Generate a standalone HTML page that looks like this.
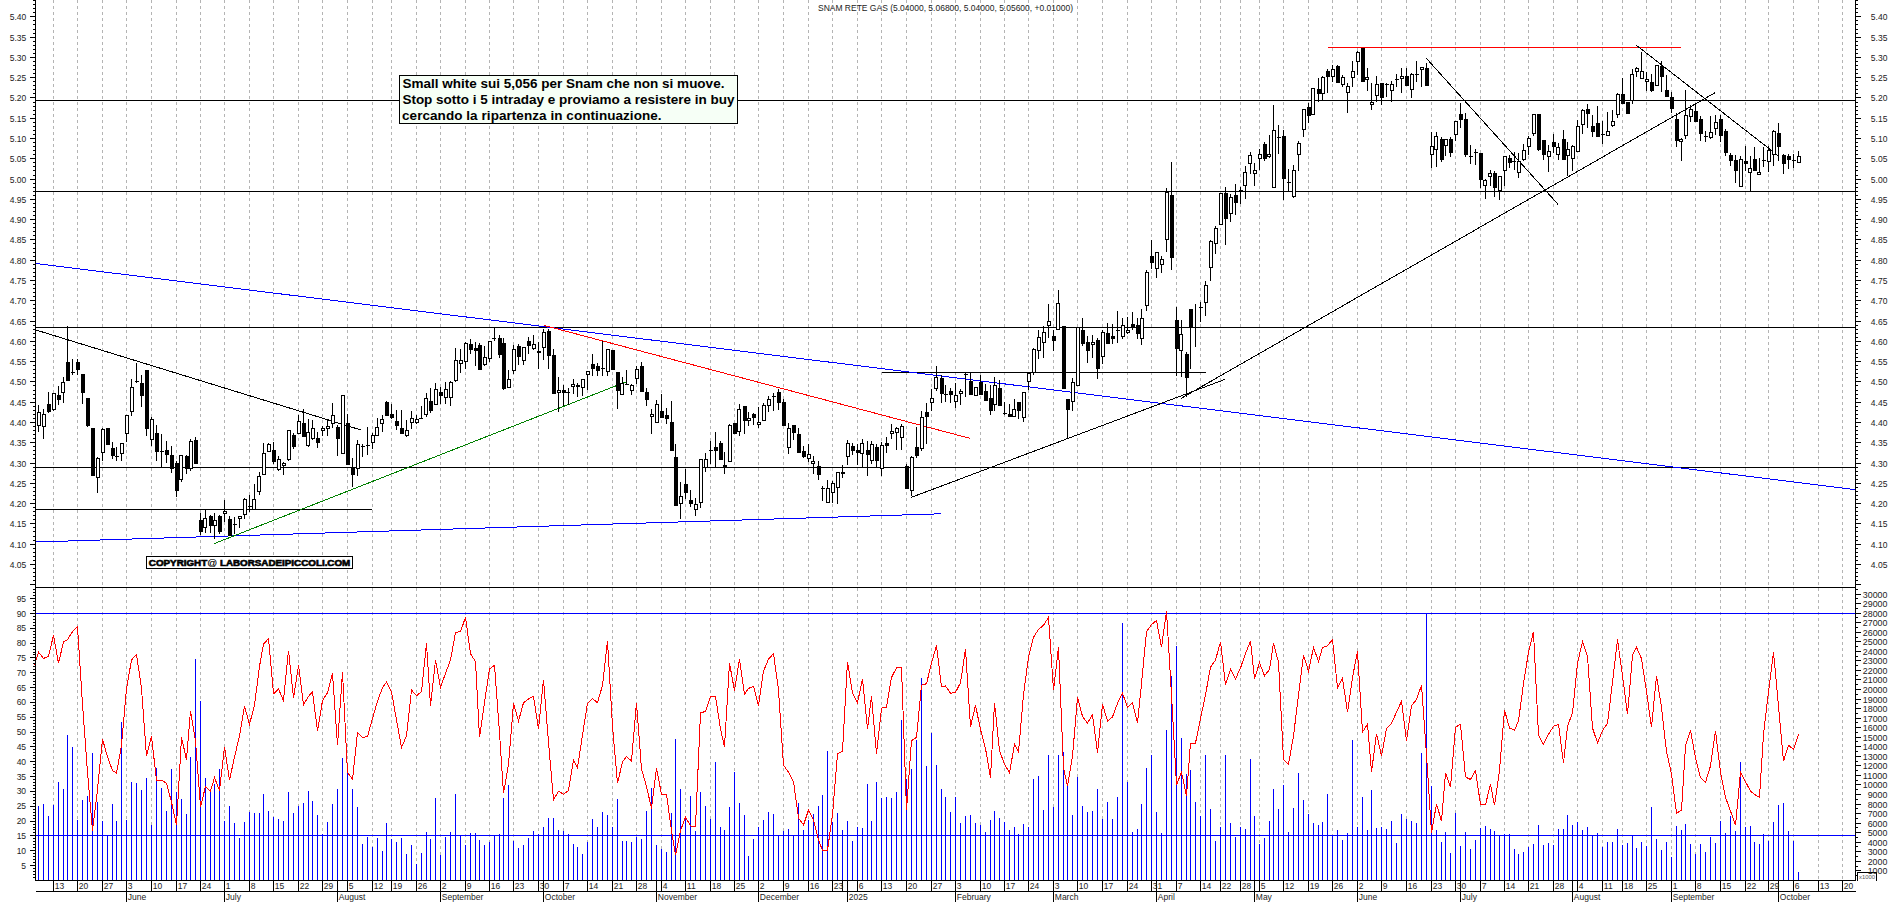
<!DOCTYPE html>
<html><head><meta charset="utf-8"><title>SNAM RETE GAS</title>
<style>html,body{margin:0;padding:0;background:#fff;}body{width:1890px;height:902px;overflow:hidden;font-family:"Liberation Sans",sans-serif;}svg{display:block}</style>
</head><body>
<svg width="1890" height="902" viewBox="0 0 1890 902" shape-rendering="crispEdges"><path d="M53.5 0V880.0M77.5 0V880.0M102.5 0V880.0M126.5 0V880.0M151.5 0V880.0M176.5 0V880.0M200.5 0V880.0M224.5 0V880.0M249.5 0V880.0M273.5 0V880.0M298.5 0V880.0M322.5 0V880.0M347.5 0V880.0M372.5 0V880.0M391.5 0V880.0M416.5 0V880.0M440.5 0V880.0M465.5 0V880.0M489.5 0V880.0M513.5 0V880.0M538.5 0V880.0M563.5 0V880.0M587.5 0V880.0M612.5 0V880.0M636.5 0V880.0M661.5 0V880.0M685.5 0V880.0M710.5 0V880.0M734.5 0V880.0M758.5 0V880.0M783.5 0V880.0M808.5 0V880.0M832.5 0V880.0M857.5 0V880.0M881.5 0V880.0M906.5 0V880.0M931.5 0V880.0M955.5 0V880.0M980.5 0V880.0M1004.5 0V880.0M1028.5 0V880.0M1053.5 0V880.0M1077.5 0V880.0M1102.5 0V880.0M1127.5 0V880.0M1151.5 0V880.0M1176.5 0V880.0M1200.5 0V880.0M1220.5 0V880.0M1240.5 0V880.0M1259.5 0V880.0M1283.5 0V880.0M1308.5 0V880.0M1332.5 0V880.0M1357.5 0V880.0M1381.5 0V880.0M1406.5 0V880.0M1431.5 0V880.0M1455.5 0V880.0M1480.5 0V880.0M1504.5 0V880.0M1528.5 0V880.0M1553.5 0V880.0M1577.5 0V880.0M1602.5 0V880.0M1622.5 0V880.0M1646.5 0V880.0M1671.5 0V880.0M1695.5 0V880.0M1720.5 0V880.0M1745.5 0V880.0M1768.5 0V880.0M1793.5 0V880.0M1818.5 0V880.0M1842.5 0V880.0" stroke="#b4b4b4" stroke-width="1" stroke-dasharray="3 3" fill="none"/>
<path d="M35.5 100.5H1855.5" stroke="#000" stroke-width="1" fill="none"/>
<path d="M35.5 191.5H1855.5" stroke="#000" stroke-width="1" fill="none"/>
<path d="M35.5 327.5H1855.5" stroke="#000" stroke-width="1" fill="none"/>
<path d="M35.5 467.5H1855.5" stroke="#000" stroke-width="1" fill="none"/>
<path d="M35.5 509.5H372" stroke="#000" stroke-width="1" fill="none"/>
<path d="M882 372.5H1206" stroke="#000" stroke-width="1" fill="none"/>
<path d="M1328 47.5H1681" stroke="#f00" stroke-width="1" fill="none"/>
<path d="M36 263.5L1855 489.6" stroke="#00f" stroke-width="1" fill="none"/>
<path d="M36 542L941 513.8" stroke="#00f" stroke-width="1" fill="none"/>
<path d="M214.2 543.6L625.4 382.1" stroke="#008000" stroke-width="1" fill="none"/>
<path d="M543.7 325.3L970.2 438.4" stroke="#f00" stroke-width="1" fill="none"/>
<path d="M36 330L361.6 430.2" stroke="#000" stroke-width="1" fill="none"/>
<path d="M911.2 497.4L1224.6 379.5" stroke="#000" stroke-width="1" fill="none"/>
<path d="M1181 398.4L1714.8 92.8" stroke="#000" stroke-width="1" fill="none"/>
<path d="M1426.3 58.3L1557.9 204.2" stroke="#000" stroke-width="1" fill="none"/>
<path d="M1636.3 45.2L1778.3 155.8" stroke="#000" stroke-width="1" fill="none"/>
<path d="M38.5 880.0V806M43.5 880.0V804M48.5 880.0V816M53.5 880.0V805M58.5 880.0V782M63.5 880.0V789M67.5 880.0V735M72.5 880.0V747M77.5 880.0V820M82.5 880.0V800M87.5 880.0V796M92.5 880.0V753M97.5 880.0V802M102.5 880.0V821M107.5 880.0V835M112.5 880.0V804M116.5 880.0V821M121.5 880.0V722M126.5 880.0V820M131.5 880.0V782M136.5 880.0V783M141.5 880.0V790M146.5 880.0V778M151.5 880.0V825M156.5 880.0V768M161.5 880.0V788M166.5 880.0V811M171.5 880.0V769M176.5 880.0V792M181.5 880.0V799M186.5 880.0V814M190.5 880.0V757M195.5 880.0V659M200.5 880.0V701M205.5 880.0V778M210.5 880.0V789M214.5 880.0V784M219.5 880.0V769M224.5 880.0V821M229.5 880.0V806M234.5 880.0V823M239.5 880.0V838M244.5 880.0V822M249.5 880.0V812M254.5 880.0V813M259.5 880.0V813M263.5 880.0V794M268.5 880.0V811M273.5 880.0V817M278.5 880.0V819M283.5 880.0V821M288.5 880.0V792M293.5 880.0V813M298.5 880.0V806M303.5 880.0V803M308.5 880.0V791M312.5 880.0V801M317.5 880.0V815M322.5 880.0V834M327.5 880.0V822M332.5 880.0V804M337.5 880.0V789M342.5 880.0V758M347.5 880.0V773M352.5 880.0V789M357.5 880.0V807M362.5 880.0V844M367.5 880.0V837M372.5 880.0V847M377.5 880.0V838M382.5 880.0V851M386.5 880.0V823M391.5 880.0V839M396.5 880.0V842M401.5 880.0V838M406.5 880.0V854M411.5 880.0V845M416.5 880.0V864M421.5 880.0V853M426.5 880.0V832M430.5 880.0V839M435.5 880.0V798M440.5 880.0V855M445.5 880.0V837M450.5 880.0V832M455.5 880.0V794M460.5 880.0V835M465.5 880.0V845M470.5 880.0V833M475.5 880.0V833M479.5 880.0V840M484.5 880.0V845M489.5 880.0V842M494.5 880.0V835M499.5 880.0V834M503.5 880.0V798M508.5 880.0V785M513.5 880.0V841M518.5 880.0V848M523.5 880.0V845M528.5 880.0V838M533.5 880.0V831M538.5 880.0V834M543.5 880.0V827M548.5 880.0V818M553.5 880.0V818M558.5 880.0V830M563.5 880.0V831M568.5 880.0V834M573.5 880.0V844M577.5 880.0V847M582.5 880.0V854M587.5 880.0V842M592.5 880.0V819M597.5 880.0V827M602.5 880.0V812M607.5 880.0V815M612.5 880.0V827M617.5 880.0V799M622.5 880.0V841M626.5 880.0V841M631.5 880.0V842M636.5 880.0V837M641.5 880.0V839M646.5 880.0V811M651.5 880.0V788M656.5 880.0V845M661.5 880.0V849M666.5 880.0V852M671.5 880.0V813M675.5 880.0V739M680.5 880.0V789M685.5 880.0V818M690.5 880.0V796M695.5 880.0V831M700.5 880.0V792M705.5 880.0V806M710.5 880.0V819M715.5 880.0V762M720.5 880.0V827M724.5 880.0V830M729.5 880.0V807M734.5 880.0V772M739.5 880.0V803M744.5 880.0V815M748.5 880.0V856M753.5 880.0V839M758.5 880.0V827M763.5 880.0V820M768.5 880.0V812M773.5 880.0V814M778.5 880.0V835M783.5 880.0V831M788.5 880.0V829M793.5 880.0V835M798.5 880.0V803M803.5 880.0V830M808.5 880.0V820M813.5 880.0V814M818.5 880.0V806M822.5 880.0V795M827.5 880.0V751M832.5 880.0V822M837.5 880.0V813M842.5 880.0V830M847.5 880.0V821M852.5 880.0V841M857.5 880.0V827M862.5 880.0V828M867.5 880.0V784M871.5 880.0V821M876.5 880.0V782M881.5 880.0V798M886.5 880.0V797M891.5 880.0V798M896.5 880.0V792M901.5 880.0V720M906.5 880.0V779M911.5 880.0V769M916.5 880.0V740M921.5 880.0V678M926.5 880.0V766M931.5 880.0V733M936.5 880.0V765M941.5 880.0V789M945.5 880.0V797M950.5 880.0V812M955.5 880.0V797M960.5 880.0V823M965.5 880.0V816M970.5 880.0V815M975.5 880.0V823M980.5 880.0V825M985.5 880.0V832M990.5 880.0V820M994.5 880.0V811M999.5 880.0V818M1004.5 880.0V822M1009.5 880.0V830M1014.5 880.0V827M1018.5 880.0V834M1023.5 880.0V824M1028.5 880.0V827M1033.5 880.0V779M1038.5 880.0V776M1043.5 880.0V810M1048.5 880.0V755M1053.5 880.0V807M1058.5 880.0V755M1063.5 880.0V752M1067.5 880.0V786M1072.5 880.0V815M1077.5 880.0V777M1082.5 880.0V806M1087.5 880.0V812M1092.5 880.0V811M1097.5 880.0V789M1102.5 880.0V819M1107.5 880.0V802M1112.5 880.0V819M1117.5 880.0V797M1122.5 880.0V623M1127.5 880.0V782M1132.5 880.0V832M1137.5 880.0V829M1141.5 880.0V804M1146.5 880.0V768M1151.5 880.0V755M1156.5 880.0V812M1161.5 880.0V833M1166.5 880.0V730M1171.5 880.0V676M1176.5 880.0V646M1181.5 880.0V738M1186.5 880.0V774M1190.5 880.0V770M1195.5 880.0V802M1200.5 880.0V816M1205.5 880.0V755M1210.5 880.0V809M1215.5 880.0V841M1220.5 880.0V827M1225.5 880.0V755M1230.5 880.0V823M1235.5 880.0V837M1240.5 880.0V827M1245.5 880.0V829M1250.5 880.0V759M1254.5 880.0V816M1259.5 880.0V844M1264.5 880.0V838M1269.5 880.0V821M1273.5 880.0V789M1278.5 880.0V809M1283.5 880.0V785M1288.5 880.0V832M1293.5 880.0V808M1298.5 880.0V773M1303.5 880.0V800M1308.5 880.0V814M1313.5 880.0V823M1318.5 880.0V825M1322.5 880.0V822M1327.5 880.0V794M1332.5 880.0V835M1337.5 880.0V830M1342.5 880.0V840M1347.5 880.0V833M1352.5 880.0V740M1357.5 880.0V827M1362.5 880.0V797M1367.5 880.0V830M1371.5 880.0V790M1376.5 880.0V828M1381.5 880.0V827M1386.5 880.0V829M1391.5 880.0V821M1396.5 880.0V843M1401.5 880.0V814M1406.5 880.0V819M1411.5 880.0V821M1416.5 880.0V823M1421.5 880.0V753M1426.5 880.0V613M1431.5 880.0V786M1436.5 880.0V830M1441.5 880.0V842M1445.5 880.0V832M1450.5 880.0V853M1455.5 880.0V813M1460.5 880.0V846M1465.5 880.0V832M1470.5 880.0V849M1475.5 880.0V840M1480.5 880.0V828M1485.5 880.0V826M1490.5 880.0V829M1494.5 880.0V831M1499.5 880.0V835M1504.5 880.0V834M1509.5 880.0V834M1514.5 880.0V849M1518.5 880.0V854M1523.5 880.0V852M1528.5 880.0V847M1533.5 880.0V844M1538.5 880.0V825M1543.5 880.0V845M1548.5 880.0V843M1553.5 880.0V845M1558.5 880.0V829M1563.5 880.0V829M1567.5 880.0V815M1572.5 880.0V825M1577.5 880.0V822M1582.5 880.0V830M1587.5 880.0V827M1592.5 880.0V835M1597.5 880.0V833M1602.5 880.0V847M1607.5 880.0V842M1612.5 880.0V842M1617.5 880.0V829M1622.5 880.0V845M1627.5 880.0V843M1632.5 880.0V835M1636.5 880.0V848M1641.5 880.0V842M1646.5 880.0V846M1651.5 880.0V807M1656.5 880.0V839M1661.5 880.0V850M1666.5 880.0V842M1671.5 880.0V857M1676.5 880.0V826M1681.5 880.0V830M1685.5 880.0V824M1690.5 880.0V844M1695.5 880.0V854M1700.5 880.0V844M1705.5 880.0V852M1710.5 880.0V837M1715.5 880.0V843M1720.5 880.0V821M1725.5 880.0V833M1730.5 880.0V816M1735.5 880.0V831M1740.5 880.0V762M1745.5 880.0V827M1750.5 880.0V826M1754.5 880.0V842M1759.5 880.0V844M1763.5 880.0V834M1768.5 880.0V841M1773.5 880.0V822M1778.5 880.0V805M1783.5 880.0V803M1788.5 880.0V831M1793.5 880.0V841M1798.5 880.0V872" stroke="#00f" stroke-width="1" fill="none"/>
<path d="M35.5 613.5H1855.5" stroke="#00f" stroke-width="1" fill="none"/>
<path d="M35.5 835.5H1855.5" stroke="#00f" stroke-width="1" fill="none"/>
<path d="M34.5 664.8 L38.5 652.1 L43.5 658.5 L48.5 656.2 L53.5 635.4 L58.5 663.2 L63.5 642.0 L67.5 639.5 L72.5 631.6 L77.5 626.9 L82.5 704.3 L87.5 772.2 L92.5 830.6 L97.5 789.6 L102.5 739.0 L107.5 757.0 L112.5 770.6 L116.5 773.1 L121.5 745.3 L126.5 688.5 L131.5 660.0 L136.5 654.3 L141.5 688.5 L146.5 756.4 L151.5 736.5 L156.5 780.1 L161.5 780.1 L166.5 783.3 L171.5 802.2 L176.5 825.0 L181.5 737.4 L186.5 759.6 L190.5 710.6 L195.5 740.6 L200.5 807.0 L205.5 786.4 L210.5 791.2 L214.5 777.6 L219.5 790.5 L224.5 746.9 L229.5 780.1 L234.5 757.0 L239.5 735.9 L244.5 706.5 L249.5 724.2 L254.5 705.2 L259.5 666.4 L263.5 644.2 L268.5 638.5 L273.5 693.8 L278.5 689.1 L283.5 700.5 L288.5 650.6 L293.5 697.9 L298.5 665.4 L303.5 704.9 L308.5 696.4 L312.5 691.6 L317.5 731.1 L322.5 700.5 L327.5 692.6 L332.5 673.3 L337.5 745.3 L342.5 672.0 L347.5 772.2 L352.5 779.5 L357.5 732.7 L362.5 737.4 L367.5 736.5 L372.5 718.5 L377.5 701.1 L382.5 687.8 L386.5 682.1 L391.5 691.6 L396.5 720.1 L401.5 747.6 L406.5 735.9 L411.5 690.0 L416.5 695.7 L421.5 691.6 L426.5 643.3 L430.5 705.8 L435.5 660.0 L440.5 687.5 L445.5 673.3 L450.5 660.0 L455.5 632.5 L460.5 631.6 L465.5 617.4 L470.5 653.7 L475.5 661.6 L479.5 737.4 L484.5 702.7 L489.5 668.9 L494.5 665.4 L499.5 732.7 L503.5 793.4 L508.5 764.3 L513.5 703.6 L518.5 721.0 L523.5 702.7 L528.5 698.9 L533.5 696.4 L538.5 728.9 L543.5 679.6 L548.5 742.2 L553.5 799.7 L558.5 791.2 L563.5 794.3 L568.5 790.5 L573.5 760.2 L577.5 767.5 L582.5 734.9 L587.5 703.3 L592.5 698.6 L597.5 702.7 L602.5 685.3 L607.5 641.1 L612.5 726.4 L617.5 783.3 L622.5 761.8 L626.5 756.4 L631.5 761.1 L636.5 702.7 L641.5 769.0 L646.5 786.4 L651.5 808.5 L656.5 768.1 L661.5 794.3 L666.5 794.3 L671.5 830.6 L675.5 855.3 L680.5 830.6 L685.5 817.1 L690.5 825.9 L695.5 826.9 L700.5 712.8 L705.5 711.5 L710.5 696.4 L715.5 696.4 L720.5 728.9 L724.5 746.9 L729.5 663.2 L734.5 690.7 L739.5 659.1 L744.5 694.2 L748.5 688.5 L753.5 686.3 L758.5 705.8 L763.5 671.1 L768.5 659.1 L773.5 653.7 L778.5 690.0 L783.5 765.2 L788.5 772.2 L793.5 781.7 L798.5 818.0 L803.5 825.0 L808.5 810.1 L813.5 819.6 L818.5 840.1 L822.5 850.2 L827.5 850.2 L832.5 814.8 L837.5 753.9 L842.5 751.0 L847.5 661.6 L852.5 693.2 L857.5 702.7 L862.5 679.0 L867.5 728.9 L871.5 696.4 L876.5 753.9 L881.5 708.1 L886.5 707.4 L891.5 677.4 L896.5 667.9 L901.5 667.3 L906.5 810.1 L911.5 740.6 L916.5 737.4 L921.5 685.3 L926.5 683.7 L931.5 663.2 L936.5 645.2 L941.5 686.9 L945.5 685.9 L950.5 693.2 L955.5 692.3 L960.5 682.8 L965.5 649.0 L970.5 727.0 L975.5 705.2 L980.5 729.5 L985.5 748.5 L990.5 777.9 L994.5 702.7 L999.5 750.7 L1004.5 764.3 L1009.5 772.8 L1014.5 744.4 L1018.5 752.3 L1023.5 694.8 L1028.5 656.9 L1033.5 637.3 L1038.5 629.4 L1043.5 625.3 L1048.5 617.4 L1053.5 690.0 L1058.5 647.4 L1063.5 767.5 L1067.5 786.4 L1072.5 756.4 L1077.5 697.3 L1082.5 716.3 L1087.5 723.2 L1092.5 714.7 L1097.5 752.6 L1102.5 704.3 L1107.5 721.0 L1112.5 716.9 L1117.5 703.3 L1122.5 693.2 L1127.5 707.4 L1132.5 702.7 L1137.5 723.2 L1141.5 683.7 L1146.5 631.6 L1151.5 624.6 L1156.5 620.5 L1161.5 647.4 L1166.5 611.1 L1171.5 694.8 L1176.5 784.8 L1181.5 772.2 L1186.5 795.9 L1190.5 743.1 L1195.5 743.1 L1200.5 718.5 L1205.5 694.8 L1210.5 667.3 L1215.5 660.0 L1220.5 642.0 L1225.5 684.7 L1230.5 669.5 L1235.5 679.0 L1240.5 667.9 L1245.5 653.7 L1250.5 641.1 L1254.5 679.0 L1259.5 662.6 L1264.5 675.8 L1269.5 669.5 L1273.5 643.3 L1278.5 662.2 L1283.5 759.6 L1288.5 764.3 L1293.5 735.9 L1298.5 694.8 L1303.5 655.3 L1308.5 671.1 L1313.5 647.4 L1318.5 661.6 L1322.5 647.4 L1327.5 645.8 L1332.5 639.5 L1337.5 687.8 L1342.5 678.4 L1347.5 712.2 L1352.5 677.4 L1357.5 651.5 L1362.5 732.1 L1367.5 724.2 L1371.5 772.2 L1376.5 733.6 L1381.5 755.8 L1386.5 728.6 L1391.5 723.2 L1396.5 712.2 L1401.5 701.1 L1406.5 740.6 L1411.5 705.8 L1416.5 699.5 L1421.5 685.3 L1426.5 754.8 L1431.5 832.9 L1436.5 803.8 L1441.5 821.2 L1445.5 773.1 L1450.5 787.0 L1455.5 727.3 L1460.5 724.2 L1465.5 776.9 L1470.5 779.5 L1475.5 770.6 L1480.5 804.7 L1485.5 804.7 L1490.5 784.2 L1494.5 805.4 L1499.5 770.6 L1504.5 710.0 L1509.5 728.0 L1514.5 730.2 L1518.5 720.7 L1523.5 683.7 L1528.5 652.1 L1533.5 631.6 L1538.5 735.2 L1543.5 744.4 L1548.5 734.3 L1553.5 726.4 L1558.5 724.2 L1563.5 763.3 L1567.5 726.4 L1572.5 712.8 L1577.5 663.2 L1582.5 641.7 L1587.5 656.2 L1592.5 728.0 L1597.5 742.8 L1602.5 730.5 L1607.5 723.2 L1612.5 682.1 L1617.5 639.5 L1622.5 675.8 L1627.5 714.4 L1632.5 655.3 L1636.5 647.4 L1641.5 658.5 L1646.5 691.6 L1651.5 727.3 L1656.5 675.8 L1661.5 707.4 L1666.5 751.7 L1671.5 773.8 L1676.5 813.3 L1681.5 810.1 L1685.5 746.0 L1690.5 730.2 L1695.5 758.0 L1700.5 777.6 L1705.5 782.3 L1710.5 765.9 L1715.5 731.1 L1720.5 772.2 L1725.5 797.5 L1730.5 811.1 L1735.5 825.3 L1740.5 772.2 L1745.5 781.7 L1750.5 791.2 L1754.5 794.3 L1759.5 797.5 L1763.5 734.3 L1768.5 691.6 L1773.5 652.1 L1778.5 705.8 L1783.5 761.1 L1788.5 745.3 L1793.5 749.4 L1798.5 734.3" stroke="#f00" stroke-width="1" fill="none" stroke-linejoin="miter"/>
<path d="M37.5 412.5H40.5V425.5H37.5ZM42.5 414.5H45.5V426.5H42.5ZM52.5 393.5H55.5V409.5H52.5ZM61.5 382.5H64.5V392.5H61.5ZM96.5 458.5H99.5V477.5H96.5ZM101.5 429.5H104.5V452.5H101.5ZM120.5 443.5H123.5V453.5H120.5ZM125.5 415.5H128.5V433.5H125.5ZM130.5 387.5H133.5V411.5H130.5ZM150.5 419.5H153.5V439.5H150.5ZM179.5 455.5H182.5V479.5H179.5ZM189.5 441.5H192.5V468.5H189.5ZM203.5 518.5H206.5V527.5H203.5ZM213.5 520.5H216.5V525.5H213.5ZM223.5 511.5H226.5V513.5H223.5ZM238.5 516.5H241.5V518.5H238.5ZM243.5 499.5H246.5V514.5H243.5ZM252.5 499.5H255.5V509.5H252.5ZM257.5 476.5H260.5V491.5H257.5ZM262.5 453.5H265.5V474.5H262.5ZM267.5 444.5H270.5V451.5H267.5ZM277.5 459.5H280.5V469.5H277.5ZM282.5 463.5H285.5V465.5H282.5ZM287.5 430.5H290.5V459.5H287.5ZM297.5 421.5H300.5V433.5H297.5ZM306.5 432.5H309.5V445.5H306.5ZM311.5 428.5H314.5V438.5H311.5ZM321.5 428.5H324.5V430.5H321.5ZM326.5 426.5H329.5V428.5H326.5ZM331.5 415.5H334.5V423.5H331.5ZM341.5 395.5H344.5V453.5H341.5ZM356.5 444.5H359.5V468.5H356.5ZM371.5 435.5H374.5V442.5H371.5ZM375.5 427.5H378.5V435.5H375.5ZM380.5 419.5H383.5V423.5H380.5ZM405.5 430.5H408.5V435.5H405.5ZM410.5 418.5H413.5V422.5H410.5ZM415.5 419.5H418.5V422.5H415.5ZM424.5 398.5H427.5V414.5H424.5ZM434.5 389.5H437.5V404.5H434.5ZM444.5 389.5H447.5V397.5H444.5ZM449.5 382.5H452.5V397.5H449.5ZM454.5 360.5H457.5V380.5H454.5ZM459.5 360.5H462.5V363.5H459.5ZM464.5 343.5H467.5V361.5H464.5ZM483.5 357.5H486.5V364.5H483.5ZM488.5 341.5H491.5V358.5H488.5ZM507.5 379.5H510.5V387.5H507.5ZM512.5 349.5H515.5V370.5H512.5ZM522.5 347.5H525.5V360.5H522.5ZM532.5 344.5H535.5V348.5H532.5ZM542.5 332.5H545.5V347.5H542.5ZM557.5 390.5H560.5V392.5H557.5ZM571.5 384.5H574.5V386.5H571.5ZM581.5 379.5H584.5V387.5H581.5ZM586.5 371.5H589.5V374.5H586.5ZM606.5 349.5H609.5V371.5H606.5ZM620.5 383.5H623.5V394.5H620.5ZM630.5 385.5H633.5V390.5H630.5ZM635.5 369.5H638.5V378.5H635.5ZM650.5 414.5H653.5V416.5H650.5ZM655.5 404.5H658.5V422.5H655.5ZM679.5 496.5H682.5V503.5H679.5ZM694.5 504.5H697.5V509.5H694.5ZM699.5 459.5H702.5V502.5H699.5ZM704.5 459.5H707.5V467.5H704.5ZM728.5 425.5H731.5V461.5H728.5ZM737.5 409.5H740.5V431.5H737.5ZM747.5 418.5H750.5V420.5H747.5ZM757.5 422.5H760.5V424.5H757.5ZM762.5 405.5H765.5V420.5H762.5ZM767.5 399.5H770.5V405.5H767.5ZM787.5 428.5H790.5V447.5H787.5ZM807.5 454.5H810.5V458.5H807.5ZM811.5 461.5H814.5V463.5H811.5ZM826.5 488.5H829.5V502.5H826.5ZM831.5 483.5H834.5V492.5H831.5ZM836.5 472.5H839.5V487.5H836.5ZM846.5 443.5H849.5V456.5H846.5ZM860.5 443.5H863.5V453.5H860.5ZM870.5 444.5H873.5V460.5H870.5ZM880.5 445.5H883.5V468.5H880.5ZM890.5 431.5H893.5V433.5H890.5ZM895.5 428.5H898.5V432.5H895.5ZM900.5 426.5H903.5V437.5H900.5ZM910.5 457.5H913.5V490.5H910.5ZM920.5 417.5H923.5V448.5H920.5ZM930.5 398.5H933.5V402.5H930.5ZM934.5 377.5H937.5V388.5H934.5ZM954.5 395.5H957.5V401.5H954.5ZM959.5 391.5H962.5V393.5H959.5ZM974.5 387.5H977.5V395.5H974.5ZM993.5 385.5H996.5V404.5H993.5ZM1012.5 409.5H1015.5V416.5H1012.5ZM1022.5 392.5H1025.5V417.5H1022.5ZM1027.5 373.5H1030.5V381.5H1027.5ZM1032.5 349.5H1035.5V372.5H1032.5ZM1037.5 337.5H1040.5V350.5H1037.5ZM1042.5 332.5H1045.5V342.5H1042.5ZM1047.5 321.5H1050.5V325.5H1047.5ZM1056.5 303.5H1059.5V329.5H1056.5ZM1071.5 382.5H1074.5V401.5H1071.5ZM1076.5 327.5H1079.5V385.5H1076.5ZM1091.5 342.5H1094.5V344.5H1091.5ZM1101.5 332.5H1104.5V356.5H1101.5ZM1121.5 325.5H1124.5V336.5H1121.5ZM1126.5 330.5H1129.5V332.5H1126.5ZM1140.5 318.5H1143.5V338.5H1140.5ZM1145.5 272.5H1148.5V305.5H1145.5ZM1155.5 252.5H1158.5V268.5H1155.5ZM1160.5 259.5H1163.5V264.5H1160.5ZM1165.5 192.5H1168.5V239.5H1165.5ZM1179.5 334.5H1182.5V350.5H1179.5ZM1204.5 285.5H1207.5V302.5H1204.5ZM1209.5 241.5H1212.5V267.5H1209.5ZM1214.5 228.5H1217.5V243.5H1214.5ZM1219.5 193.5H1222.5V224.5H1219.5ZM1229.5 197.5H1232.5V213.5H1229.5ZM1243.5 172.5H1246.5V185.5H1243.5ZM1248.5 155.5H1251.5V163.5H1248.5ZM1253.5 170.5H1256.5V173.5H1253.5ZM1258.5 154.5H1261.5V158.5H1258.5ZM1267.5 154.5H1270.5V156.5H1267.5ZM1272.5 130.5H1275.5V187.5H1272.5ZM1292.5 170.5H1295.5V196.5H1292.5ZM1297.5 143.5H1300.5V154.5H1297.5ZM1302.5 109.5H1305.5V129.5H1302.5ZM1311.5 88.5H1314.5V114.5H1311.5ZM1321.5 77.5H1324.5V93.5H1321.5ZM1331.5 69.5H1334.5V76.5H1331.5ZM1341.5 77.5H1344.5V84.5H1341.5ZM1346.5 86.5H1349.5V92.5H1346.5ZM1351.5 71.5H1354.5V77.5H1351.5ZM1356.5 52.5H1359.5V61.5H1356.5ZM1365.5 77.5H1368.5V79.5H1365.5ZM1370.5 102.5H1373.5V104.5H1370.5ZM1375.5 84.5H1378.5V95.5H1375.5ZM1390.5 84.5H1393.5V90.5H1390.5ZM1400.5 76.5H1403.5V78.5H1400.5ZM1410.5 74.5H1413.5V89.5H1410.5ZM1420.5 67.5H1423.5V69.5H1420.5ZM1430.5 146.5H1433.5V154.5H1430.5ZM1434.5 136.5H1437.5V149.5H1434.5ZM1444.5 139.5H1447.5V145.5H1444.5ZM1454.5 121.5H1457.5V134.5H1454.5ZM1483.5 180.5H1486.5V185.5H1483.5ZM1488.5 173.5H1491.5V176.5H1488.5ZM1498.5 176.5H1501.5V190.5H1498.5ZM1503.5 156.5H1506.5V170.5H1503.5ZM1517.5 161.5H1520.5V172.5H1517.5ZM1522.5 150.5H1525.5V159.5H1522.5ZM1527.5 138.5H1530.5V146.5H1527.5ZM1532.5 114.5H1535.5V133.5H1532.5ZM1547.5 151.5H1550.5V156.5H1547.5ZM1556.5 147.5H1559.5V154.5H1556.5ZM1566.5 149.5H1569.5V155.5H1566.5ZM1571.5 146.5H1574.5V158.5H1571.5ZM1576.5 126.5H1579.5V151.5H1576.5ZM1581.5 110.5H1584.5V124.5H1581.5ZM1606.5 131.5H1609.5V135.5H1606.5ZM1611.5 121.5H1614.5V125.5H1611.5ZM1616.5 94.5H1619.5V114.5H1616.5ZM1630.5 74.5H1633.5V100.5H1630.5ZM1635.5 68.5H1638.5V71.5H1635.5ZM1640.5 71.5H1643.5V78.5H1640.5ZM1645.5 79.5H1648.5V81.5H1645.5ZM1655.5 65.5H1658.5V85.5H1655.5ZM1679.5 139.5H1682.5V141.5H1679.5ZM1684.5 115.5H1687.5V135.5H1684.5ZM1689.5 109.5H1692.5V116.5H1689.5ZM1709.5 132.5H1712.5V137.5H1709.5ZM1714.5 122.5H1717.5V128.5H1714.5ZM1739.5 159.5H1742.5V186.5H1739.5ZM1748.5 168.5H1751.5V172.5H1748.5ZM1757.5 172.5H1760.5V174.5H1757.5ZM1767.5 150.5H1770.5V161.5H1767.5ZM1772.5 131.5H1775.5V154.5H1772.5ZM1797.5 156.5H1800.5V162.5H1797.5Z" stroke="#000" stroke-width="1" fill="#fff"/>
<path d="M38.5 405V412M38.5 426V432M43.5 409V414M43.5 427V439M48.5 392V413M53.5 410V411M58.5 386V405M63.5 377V382M63.5 393V403M67.5 326V381M72.5 359V375M77.5 359V375M82.5 374V404M87.5 398V427M92.5 428V476M97.5 457V458M97.5 478V493M102.5 428V429M102.5 453V461M107.5 428V445M112.5 442V459M116.5 447V461M121.5 454V461M126.5 434V442M131.5 379V387M131.5 412V416M136.5 363V383M141.5 375V407M146.5 370V436M151.5 417V419M151.5 440V446M156.5 425V461M161.5 434V467M166.5 441V463M171.5 446V473M176.5 461V497M181.5 480V482M186.5 455V474M190.5 439V441M190.5 469V471M195.5 437V464M200.5 513V535M205.5 510V518M205.5 528V533M210.5 515V533M214.5 513V520M214.5 526V539M219.5 515V534M224.5 500V511M224.5 514V522M229.5 516V536M234.5 517V534M239.5 519V528M244.5 498V499M244.5 515V519M249.5 495V512M254.5 484V499M259.5 472V476M259.5 492V495M263.5 443V453M268.5 443V444M273.5 442V464M278.5 456V459M278.5 470V471M283.5 462V463M283.5 465V475M288.5 460V461M293.5 433V449M298.5 415V421M303.5 409V437M308.5 419V432M308.5 446V447M312.5 420V428M312.5 439V440M317.5 432V448M322.5 426V428M322.5 431V436M327.5 420V426M327.5 429V436M332.5 403V415M332.5 424V428M337.5 425V456M347.5 414V465M352.5 458V487M357.5 440V444M357.5 469V476M362.5 444V457M367.5 427V455M372.5 433V435M372.5 443V449M377.5 418V427M382.5 415V419M382.5 424V432M386.5 401V416M391.5 404V419M396.5 410V430M401.5 410V434M406.5 420V430M406.5 436V437M411.5 411V418M411.5 423V429M416.5 415V419M416.5 423V424M421.5 406V418M426.5 393V398M426.5 415V417M430.5 388V413M435.5 383V389M440.5 387V404M445.5 382V389M445.5 398V404M450.5 381V382M450.5 398V406M455.5 348V360M455.5 381V382M460.5 349V360M460.5 364V373M465.5 342V343M465.5 362V369M470.5 339V354M475.5 342V366M479.5 343V370M484.5 346V357M484.5 365V366M489.5 359V362M494.5 328V341M499.5 335V358M503.5 338V390M508.5 370V379M513.5 345V349M513.5 371V374M518.5 344V365M523.5 361V365M528.5 337V354M533.5 335V344M533.5 349V350M538.5 342V369M543.5 329V332M543.5 348V360M548.5 329V369M553.5 349V394M558.5 377V391M558.5 392V412M563.5 385V406M568.5 388V405M573.5 379V384M573.5 387V394M577.5 383V397M582.5 388V396M587.5 375V390M592.5 354V376M597.5 363V376M602.5 341V376M607.5 372V376M612.5 350V370M617.5 372V409M622.5 377V383M626.5 370V384M631.5 384V385M631.5 391V395M636.5 366V369M636.5 379V384M641.5 362V392M646.5 388V406M651.5 409V414M651.5 416V434M656.5 400V404M661.5 394V418M666.5 408V424M671.5 401V451M675.5 444V506M680.5 482V496M680.5 504V519M685.5 469V499M690.5 490V507M695.5 498V504M695.5 510V516M700.5 503V508M705.5 453V459M705.5 468V472M710.5 441V464M715.5 432V467M720.5 441V460M724.5 452V474M729.5 424V425M734.5 423V434M739.5 404V409M739.5 432V436M744.5 406V434M748.5 412V419M748.5 420V426M753.5 413V425M758.5 407V423M758.5 424V428M763.5 403V405M768.5 396V399M768.5 406V412M773.5 393V411M778.5 389V410M783.5 399V426M788.5 423V428M788.5 448V454M793.5 425V440M798.5 428V453M803.5 446V458M808.5 444V454M808.5 459V462M813.5 456V461M813.5 463V474M818.5 461V480M822.5 486V501M827.5 480V488M832.5 481V483M832.5 493V503M837.5 488V504M842.5 465V478M847.5 440V443M847.5 457V465M852.5 443V455M857.5 444V465M862.5 439V443M862.5 454V467M867.5 441V476M871.5 441V444M871.5 461V464M876.5 444V468M881.5 442V445M881.5 469V476M886.5 437V453M891.5 424V431M891.5 433V439M896.5 427V428M896.5 433V450M901.5 424V426M901.5 438V450M906.5 464V489M911.5 456V457M911.5 491V496M916.5 427V458M921.5 411V417M921.5 449V451M926.5 403V444M931.5 389V398M931.5 403V411M936.5 366V377M936.5 389V391M941.5 375V403M945.5 385V402M950.5 388V403M955.5 383V395M955.5 402V408M960.5 389V391M960.5 394V405M965.5 372V397M970.5 372V395M980.5 375V395M985.5 384V401M990.5 385V415M994.5 377V385M994.5 405V411M999.5 380V406M1004.5 402V415M1009.5 404V417M1014.5 399V409M1018.5 402V419M1023.5 418V422M1028.5 382V390M1033.5 348V349M1033.5 373V375M1038.5 330V337M1038.5 351V359M1043.5 326V332M1043.5 343V358M1048.5 304V321M1048.5 326V338M1053.5 330V351M1058.5 290V303M1063.5 326V389M1067.5 399V438M1072.5 378V382M1072.5 402V411M1082.5 318V346M1087.5 336V363M1092.5 335V342M1092.5 345V358M1097.5 338V379M1102.5 330V332M1102.5 357V364M1107.5 323V344M1112.5 324V344M1117.5 311V343M1122.5 318V325M1122.5 337V339M1127.5 317V330M1127.5 333V334M1132.5 312V330M1137.5 318V339M1141.5 309V318M1141.5 339V345M1146.5 270V272M1146.5 306V311M1151.5 240V269M1156.5 269V278M1161.5 256V259M1161.5 265V273M1166.5 188V192M1166.5 240V252M1171.5 162V270M1176.5 307V376M1181.5 320V334M1181.5 351V377M1186.5 352V397M1190.5 309V369M1195.5 304V347M1200.5 302V322M1205.5 281V285M1205.5 303V316M1210.5 240V241M1210.5 268V281M1215.5 226V228M1215.5 244V254M1225.5 187V245M1230.5 194V197M1230.5 214V222M1235.5 184V215M1240.5 187V204M1245.5 166V172M1245.5 186V199M1250.5 152V155M1250.5 164V174M1254.5 163V170M1254.5 174V186M1259.5 149V154M1259.5 159V170M1264.5 142V161M1269.5 135V154M1269.5 157V158M1273.5 105V130M1278.5 125V154M1283.5 130V200M1288.5 169V191M1293.5 165V170M1293.5 197V198M1298.5 141V143M1298.5 155V171M1303.5 130V137M1308.5 103V123M1318.5 78V102M1322.5 76V77M1322.5 94V101M1327.5 69V93M1332.5 65V69M1332.5 77V82M1337.5 65V83M1342.5 75V77M1342.5 85V87M1347.5 83V86M1347.5 93V113M1352.5 61V71M1352.5 78V87M1357.5 51V52M1357.5 62V75M1362.5 48V82M1367.5 68V78M1367.5 79V91M1371.5 83V102M1371.5 104V110M1376.5 76V84M1376.5 96V102M1381.5 83V105M1386.5 83V97M1391.5 81V84M1391.5 91V102M1396.5 74V87M1401.5 68V76M1401.5 79V93M1406.5 68V86M1411.5 73V74M1411.5 90V98M1416.5 61V82M1421.5 70V87M1426.5 63V86M1431.5 132V146M1431.5 155V168M1436.5 132V136M1436.5 150V167M1441.5 137V162M1445.5 146V156M1450.5 137V157M1455.5 135V141M1460.5 103V128M1465.5 113V157M1470.5 145V164M1475.5 149V165M1480.5 153V188M1485.5 179V180M1485.5 186V199M1490.5 170V173M1490.5 177V186M1494.5 171V197M1499.5 191V200M1504.5 171V186M1509.5 155V168M1514.5 152V170M1518.5 153V161M1518.5 173V178M1523.5 144V150M1523.5 160V161M1528.5 136V138M1528.5 147V155M1533.5 134V136M1538.5 114V151M1543.5 140V160M1548.5 145V151M1548.5 157V172M1553.5 134V153M1558.5 143V147M1558.5 155V160M1563.5 130V160M1567.5 142V149M1567.5 156V176M1572.5 145V146M1572.5 159V171M1577.5 120V126M1582.5 109V110M1582.5 125V134M1587.5 104V128M1592.5 115V137M1597.5 106V137M1602.5 121V144M1607.5 112V131M1612.5 110V121M1612.5 126V127M1617.5 93V94M1617.5 115V118M1622.5 78V104M1627.5 102V114M1632.5 69V74M1632.5 101V104M1636.5 67V68M1636.5 72V77M1641.5 52V71M1646.5 72V79M1646.5 82V91M1651.5 74V92M1661.5 61V92M1666.5 75V97M1671.5 92V113M1676.5 113V147M1681.5 138V139M1681.5 142V161M1685.5 90V115M1685.5 136V139M1690.5 105V109M1690.5 117V122M1695.5 104V122M1700.5 116V141M1705.5 131V142M1710.5 116V132M1710.5 138V139M1715.5 115V122M1715.5 129V135M1720.5 115V142M1725.5 129V156M1730.5 153V166M1735.5 155V183M1740.5 156V159M1745.5 146V171M1750.5 156V168M1750.5 173V191M1754.5 147V171M1759.5 158V172M1759.5 174V175M1763.5 147V167M1768.5 146V150M1768.5 162V172M1773.5 130V131M1773.5 155V166M1778.5 123V161M1783.5 154V174M1788.5 154V169M1793.5 154V168M1798.5 151V156" stroke="#000" stroke-width="1" fill="none"/>
<path d="M71 372.5H75M115 456.5H119M135 381.5H139M160 451.5H164M233 524.5H237M248 506.5H252M361 446.5H365M366 445.5H370M419 418.5H423M492 338.5H496M566 392.5H570M601 368.5H605M625 384.5H629M709 450.5H713M772 396.5H776M821 488.5H825M944 394.5H948M964 374.5H968M1116 330.5H1120M1194 327.5H1198M1199 307.5H1203M1239 190.5H1243M1277 137.5H1281M1287 182.5H1291M1385 84.5H1389M1395 79.5H1399M1415 74.5H1419M1469 156.5H1473M1474 152.5H1478M1512 161.5H1516M1601 134.5H1605M1704 136.5H1708M1762 160.5H1766M1792 160.5H1796" stroke="#000" stroke-width="1" fill="none"/>
<path d="M47 404H51V412H47ZM57 395H61V400H57ZM66 362H70V381H66ZM76 362H80V370H76ZM81 374H85V393H81ZM86 398H90V426H86ZM91 428H95V476H91ZM106 428H110V445H106ZM111 448H115V456H111ZM140 383H144V396H140ZM145 370H149V429H145ZM155 433H159V452H155ZM165 450H169V455H165ZM170 455H174V469H170ZM175 463H179V491H175ZM185 456H189V469H185ZM194 440H198V464H194ZM199 520H203V532H199ZM209 516H213V526H209ZM218 516H222V532H218ZM228 519H232V536H228ZM272 450H276V462H272ZM292 435H296V447H292ZM302 423H306V437H302ZM316 438H320V443H316ZM336 427H340V439H336ZM346 423H350V465H346ZM351 467H355V475H351ZM385 402H389V416H385ZM390 414H394V418H390ZM395 421H399V426H395ZM400 428H404V434H400ZM429 401H433V411H429ZM439 392H443V396H439ZM469 344H473V350H469ZM474 348H478V351H474ZM478 345H482V370H478ZM498 338H502V355H498ZM502 343H506V389H502ZM517 346H521V357H517ZM527 341H531V346H527ZM537 351H541V353H537ZM547 331H551V356H547ZM552 355H556V394H552ZM562 390H566V393H562ZM576 385H580V387H576ZM591 364H595V369H591ZM596 366H600V371H596ZM611 350H615V370H611ZM616 372H620V391H616ZM640 366H644V392H640ZM645 392H649V400H645ZM660 411H664V418H660ZM665 415H669V419H665ZM670 422H674V451H670ZM674 457H678V506H674ZM684 484H688V493H684ZM689 500H693V504H689ZM714 447H718V451H714ZM719 443H723V460H719ZM723 465H727V467H723ZM733 423H737V434H733ZM743 406H747V421H743ZM752 414H756V418H752ZM777 392H781V403H777ZM782 402H786V426H782ZM792 425H796V433H792ZM797 434H801V453H797ZM802 451H806V457H802ZM817 466H821V475H817ZM841 472H845V474H841ZM851 446H855V451H851ZM856 450H860V453H856ZM866 450H870V455H866ZM875 447H879V461H875ZM885 443H889V446H885ZM905 466H909V489H905ZM915 447H919V456H915ZM925 412H929V417H925ZM940 378H944V394H940ZM949 391H953V395H949ZM969 381H973V395H969ZM979 382H983V395H979ZM984 391H988V401H984ZM989 398H993V411H989ZM998 388H1002V406H998ZM1003 413H1007V414H1003ZM1008 414H1012V417H1008ZM1017 402H1021V411H1017ZM1052 336H1056V341H1052ZM1062 326H1066V389H1062ZM1066 399H1070V410H1066ZM1081 330H1085V344H1081ZM1086 342H1090V351H1086ZM1096 340H1100V369H1096ZM1106 333H1110V344H1106ZM1111 336H1115V339H1111ZM1131 324H1135V327H1131ZM1136 325H1140V334H1136ZM1150 256H1154V263H1150ZM1170 195H1174V258H1170ZM1175 320H1179V349H1175ZM1185 354H1189V378H1185ZM1189 309H1193V327H1189ZM1224 193H1228V219H1224ZM1234 195H1238V203H1234ZM1263 144H1267V159H1263ZM1282 136H1286V179H1282ZM1307 107H1311V116H1307ZM1317 89H1321V94H1317ZM1326 71H1330V77H1326ZM1336 66H1340V83H1336ZM1361 48H1365V82H1361ZM1380 83H1384V98H1380ZM1405 76H1409V86H1405ZM1425 68H1429V86H1425ZM1440 139H1444V160H1440ZM1449 139H1453V153H1449ZM1459 114H1463V120H1459ZM1464 119H1468V155H1464ZM1479 153H1483V180H1479ZM1493 173H1497V188H1493ZM1508 158H1512V163H1508ZM1537 114H1541V150H1537ZM1542 140H1546V155H1542ZM1552 142H1556V147H1552ZM1562 139H1566V160H1562ZM1586 109H1590V114H1586ZM1591 126H1595V132H1591ZM1596 123H1600V137H1596ZM1621 94H1625V104H1621ZM1626 102H1630V114H1626ZM1650 82H1654V91H1650ZM1660 66H1664V77H1660ZM1665 90H1669V97H1665ZM1670 97H1674V109H1670ZM1675 119H1679V141H1675ZM1694 111H1698V122H1694ZM1699 119H1703V134H1699ZM1719 119H1723V136H1719ZM1724 131H1728V153H1724ZM1729 155H1733V161H1729ZM1734 160H1738V171H1734ZM1744 161H1748V164H1744ZM1753 159H1757V171H1753ZM1777 133H1781V147H1777ZM1782 155H1786V164H1782ZM1787 156H1791V160H1787Z" fill="#000" stroke="none"/>
<path d="M35.5 0V881.0M1855.5 0V880.5M35.5 587.5H1855.5M35.5 880.5H1855.5M35.5 891.5H1855.5M33.0 0.5H35.5M1855.5 0.5H1858.0M33.0 4.5H35.5M1855.5 4.5H1858.0M33.0 8.5H35.5M1855.5 8.5H1858.0M33.0 12.5H35.5M1855.5 12.5H1858.0M30.0 16.5H35.5M1855.5 16.5H1861.0M33.0 20.5H35.5M1855.5 20.5H1858.0M33.0 24.5H35.5M1855.5 24.5H1858.0M33.0 29.5H35.5M1855.5 29.5H1858.0M33.0 33.5H35.5M1855.5 33.5H1858.0M30.0 37.5H35.5M1855.5 37.5H1861.0M33.0 41.5H35.5M1855.5 41.5H1858.0M33.0 45.5H35.5M1855.5 45.5H1858.0M33.0 49.5H35.5M1855.5 49.5H1858.0M33.0 53.5H35.5M1855.5 53.5H1858.0M30.0 57.5H35.5M1855.5 57.5H1861.0M33.0 61.5H35.5M1855.5 61.5H1858.0M33.0 65.5H35.5M1855.5 65.5H1858.0M33.0 69.5H35.5M1855.5 69.5H1858.0M33.0 73.5H35.5M1855.5 73.5H1858.0M30.0 77.5H35.5M1855.5 77.5H1861.0M33.0 81.5H35.5M1855.5 81.5H1858.0M33.0 85.5H35.5M1855.5 85.5H1858.0M33.0 89.5H35.5M1855.5 89.5H1858.0M33.0 93.5H35.5M1855.5 93.5H1858.0M30.0 97.5H35.5M1855.5 97.5H1861.0M33.0 102.5H35.5M1855.5 102.5H1858.0M33.0 106.5H35.5M1855.5 106.5H1858.0M33.0 110.5H35.5M1855.5 110.5H1858.0M33.0 114.5H35.5M1855.5 114.5H1858.0M30.0 118.5H35.5M1855.5 118.5H1861.0M33.0 122.5H35.5M1855.5 122.5H1858.0M33.0 126.5H35.5M1855.5 126.5H1858.0M33.0 130.5H35.5M1855.5 130.5H1858.0M33.0 134.5H35.5M1855.5 134.5H1858.0M30.0 138.5H35.5M1855.5 138.5H1861.0M33.0 142.5H35.5M1855.5 142.5H1858.0M33.0 146.5H35.5M1855.5 146.5H1858.0M33.0 150.5H35.5M1855.5 150.5H1858.0M33.0 154.5H35.5M1855.5 154.5H1858.0M30.0 158.5H35.5M1855.5 158.5H1861.0M33.0 162.5H35.5M1855.5 162.5H1858.0M33.0 166.5H35.5M1855.5 166.5H1858.0M33.0 170.5H35.5M1855.5 170.5H1858.0M33.0 175.5H35.5M1855.5 175.5H1858.0M30.0 179.5H35.5M1855.5 179.5H1861.0M33.0 183.5H35.5M1855.5 183.5H1858.0M33.0 187.5H35.5M1855.5 187.5H1858.0M33.0 191.5H35.5M1855.5 191.5H1858.0M33.0 195.5H35.5M1855.5 195.5H1858.0M30.0 199.5H35.5M1855.5 199.5H1861.0M33.0 203.5H35.5M1855.5 203.5H1858.0M33.0 207.5H35.5M1855.5 207.5H1858.0M33.0 211.5H35.5M1855.5 211.5H1858.0M33.0 215.5H35.5M1855.5 215.5H1858.0M30.0 219.5H35.5M1855.5 219.5H1861.0M33.0 223.5H35.5M1855.5 223.5H1858.0M33.0 227.5H35.5M1855.5 227.5H1858.0M33.0 231.5H35.5M1855.5 231.5H1858.0M33.0 235.5H35.5M1855.5 235.5H1858.0M30.0 239.5H35.5M1855.5 239.5H1861.0M33.0 243.5H35.5M1855.5 243.5H1858.0M33.0 248.5H35.5M1855.5 248.5H1858.0M33.0 252.5H35.5M1855.5 252.5H1858.0M33.0 256.5H35.5M1855.5 256.5H1858.0M30.0 260.5H35.5M1855.5 260.5H1861.0M33.0 264.5H35.5M1855.5 264.5H1858.0M33.0 268.5H35.5M1855.5 268.5H1858.0M33.0 272.5H35.5M1855.5 272.5H1858.0M33.0 276.5H35.5M1855.5 276.5H1858.0M30.0 280.5H35.5M1855.5 280.5H1861.0M33.0 284.5H35.5M1855.5 284.5H1858.0M33.0 288.5H35.5M1855.5 288.5H1858.0M33.0 292.5H35.5M1855.5 292.5H1858.0M33.0 296.5H35.5M1855.5 296.5H1858.0M30.0 300.5H35.5M1855.5 300.5H1861.0M33.0 304.5H35.5M1855.5 304.5H1858.0M33.0 308.5H35.5M1855.5 308.5H1858.0M33.0 312.5H35.5M1855.5 312.5H1858.0M33.0 316.5H35.5M1855.5 316.5H1858.0M30.0 321.5H35.5M1855.5 321.5H1861.0M33.0 325.5H35.5M1855.5 325.5H1858.0M33.0 329.5H35.5M1855.5 329.5H1858.0M33.0 333.5H35.5M1855.5 333.5H1858.0M33.0 337.5H35.5M1855.5 337.5H1858.0M30.0 341.5H35.5M1855.5 341.5H1861.0M33.0 345.5H35.5M1855.5 345.5H1858.0M33.0 349.5H35.5M1855.5 349.5H1858.0M33.0 353.5H35.5M1855.5 353.5H1858.0M33.0 357.5H35.5M1855.5 357.5H1858.0M30.0 361.5H35.5M1855.5 361.5H1861.0M33.0 365.5H35.5M1855.5 365.5H1858.0M33.0 369.5H35.5M1855.5 369.5H1858.0M33.0 373.5H35.5M1855.5 373.5H1858.0M33.0 377.5H35.5M1855.5 377.5H1858.0M30.0 381.5H35.5M1855.5 381.5H1861.0M33.0 385.5H35.5M1855.5 385.5H1858.0M33.0 390.5H35.5M1855.5 390.5H1858.0M33.0 394.5H35.5M1855.5 394.5H1858.0M33.0 398.5H35.5M1855.5 398.5H1858.0M30.0 402.5H35.5M1855.5 402.5H1861.0M33.0 406.5H35.5M1855.5 406.5H1858.0M33.0 410.5H35.5M1855.5 410.5H1858.0M33.0 414.5H35.5M1855.5 414.5H1858.0M33.0 418.5H35.5M1855.5 418.5H1858.0M30.0 422.5H35.5M1855.5 422.5H1861.0M33.0 426.5H35.5M1855.5 426.5H1858.0M33.0 430.5H35.5M1855.5 430.5H1858.0M33.0 434.5H35.5M1855.5 434.5H1858.0M33.0 438.5H35.5M1855.5 438.5H1858.0M30.0 442.5H35.5M1855.5 442.5H1861.0M33.0 446.5H35.5M1855.5 446.5H1858.0M33.0 450.5H35.5M1855.5 450.5H1858.0M33.0 454.5H35.5M1855.5 454.5H1858.0M33.0 458.5H35.5M1855.5 458.5H1858.0M30.0 463.5H35.5M1855.5 463.5H1861.0M33.0 467.5H35.5M1855.5 467.5H1858.0M33.0 471.5H35.5M1855.5 471.5H1858.0M33.0 475.5H35.5M1855.5 475.5H1858.0M33.0 479.5H35.5M1855.5 479.5H1858.0M30.0 483.5H35.5M1855.5 483.5H1861.0M33.0 487.5H35.5M1855.5 487.5H1858.0M33.0 491.5H35.5M1855.5 491.5H1858.0M33.0 495.5H35.5M1855.5 495.5H1858.0M33.0 499.5H35.5M1855.5 499.5H1858.0M30.0 503.5H35.5M1855.5 503.5H1861.0M33.0 507.5H35.5M1855.5 507.5H1858.0M33.0 511.5H35.5M1855.5 511.5H1858.0M33.0 515.5H35.5M1855.5 515.5H1858.0M33.0 519.5H35.5M1855.5 519.5H1858.0M30.0 523.5H35.5M1855.5 523.5H1861.0M33.0 527.5H35.5M1855.5 527.5H1858.0M33.0 531.5H35.5M1855.5 531.5H1858.0M33.0 536.5H35.5M1855.5 536.5H1858.0M33.0 540.5H35.5M1855.5 540.5H1858.0M30.0 544.5H35.5M1855.5 544.5H1861.0M33.0 548.5H35.5M1855.5 548.5H1858.0M33.0 552.5H35.5M1855.5 552.5H1858.0M33.0 556.5H35.5M1855.5 556.5H1858.0M33.0 560.5H35.5M1855.5 560.5H1858.0M30.0 564.5H35.5M1855.5 564.5H1861.0M33.0 568.5H35.5M1855.5 568.5H1858.0M33.0 572.5H35.5M1855.5 572.5H1858.0M33.0 576.5H35.5M1855.5 576.5H1858.0M33.0 580.5H35.5M1855.5 580.5H1858.0M30.0 584.5H35.5M1855.5 584.5H1861.0M33.0 877.5H35.5M33.0 874.5H35.5M33.0 871.5H35.5M33.0 868.5H35.5M30.0 865.5H35.5M33.0 862.5H35.5M33.0 859.5H35.5M33.0 856.5H35.5M33.0 853.5H35.5M30.0 850.5H35.5M33.0 847.5H35.5M33.0 844.5H35.5M33.0 841.5H35.5M33.0 838.5H35.5M30.0 835.5H35.5M33.0 832.5H35.5M33.0 829.5H35.5M33.0 827.5H35.5M33.0 824.5H35.5M30.0 821.5H35.5M33.0 818.5H35.5M33.0 815.5H35.5M33.0 812.5H35.5M33.0 809.5H35.5M30.0 806.5H35.5M33.0 803.5H35.5M33.0 800.5H35.5M33.0 797.5H35.5M33.0 794.5H35.5M30.0 791.5H35.5M33.0 788.5H35.5M33.0 785.5H35.5M33.0 782.5H35.5M33.0 779.5H35.5M30.0 776.5H35.5M33.0 773.5H35.5M33.0 770.5H35.5M33.0 767.5H35.5M33.0 764.5H35.5M30.0 761.5H35.5M33.0 758.5H35.5M33.0 755.5H35.5M33.0 752.5H35.5M33.0 749.5H35.5M30.0 746.5H35.5M33.0 743.5H35.5M33.0 740.5H35.5M33.0 738.5H35.5M33.0 735.5H35.5M30.0 732.5H35.5M33.0 729.5H35.5M33.0 726.5H35.5M33.0 723.5H35.5M33.0 720.5H35.5M30.0 717.5H35.5M33.0 714.5H35.5M33.0 711.5H35.5M33.0 708.5H35.5M33.0 705.5H35.5M30.0 702.5H35.5M33.0 699.5H35.5M33.0 696.5H35.5M33.0 693.5H35.5M33.0 690.5H35.5M30.0 687.5H35.5M33.0 684.5H35.5M33.0 681.5H35.5M33.0 678.5H35.5M33.0 675.5H35.5M30.0 672.5H35.5M33.0 669.5H35.5M33.0 666.5H35.5M33.0 663.5H35.5M33.0 660.5H35.5M30.0 657.5H35.5M33.0 654.5H35.5M33.0 652.5H35.5M33.0 649.5H35.5M33.0 646.5H35.5M30.0 643.5H35.5M33.0 640.5H35.5M33.0 637.5H35.5M33.0 634.5H35.5M33.0 631.5H35.5M30.0 628.5H35.5M33.0 625.5H35.5M33.0 622.5H35.5M33.0 619.5H35.5M33.0 616.5H35.5M30.0 613.5H35.5M33.0 610.5H35.5M33.0 607.5H35.5M33.0 604.5H35.5M33.0 601.5H35.5M30.0 598.5H35.5M33.0 595.5H35.5M33.0 592.5H35.5M33.0 589.5H35.5M1855.5 875.5H1858.0M1855.5 870.5H1861.0M1855.5 866.5H1858.0M1855.5 861.5H1861.0M1855.5 856.5H1858.0M1855.5 851.5H1861.0M1855.5 846.5H1858.0M1855.5 842.5H1861.0M1855.5 837.5H1858.0M1855.5 832.5H1861.0M1855.5 827.5H1858.0M1855.5 823.5H1861.0M1855.5 818.5H1858.0M1855.5 813.5H1861.0M1855.5 808.5H1858.0M1855.5 804.5H1861.0M1855.5 799.5H1858.0M1855.5 794.5H1861.0M1855.5 789.5H1858.0M1855.5 784.5H1861.0M1855.5 780.5H1858.0M1855.5 775.5H1861.0M1855.5 770.5H1858.0M1855.5 765.5H1861.0M1855.5 761.5H1858.0M1855.5 756.5H1861.0M1855.5 751.5H1858.0M1855.5 746.5H1861.0M1855.5 741.5H1858.0M1855.5 737.5H1861.0M1855.5 732.5H1858.0M1855.5 727.5H1861.0M1855.5 722.5H1858.0M1855.5 718.5H1861.0M1855.5 713.5H1858.0M1855.5 708.5H1861.0M1855.5 703.5H1858.0M1855.5 699.5H1861.0M1855.5 694.5H1858.0M1855.5 689.5H1861.0M1855.5 684.5H1858.0M1855.5 679.5H1861.0M1855.5 675.5H1858.0M1855.5 670.5H1861.0M1855.5 665.5H1858.0M1855.5 660.5H1861.0M1855.5 656.5H1858.0M1855.5 651.5H1861.0M1855.5 646.5H1858.0M1855.5 641.5H1861.0M1855.5 637.5H1858.0M1855.5 632.5H1861.0M1855.5 627.5H1858.0M1855.5 622.5H1861.0M1855.5 617.5H1858.0M1855.5 613.5H1861.0M1855.5 608.5H1858.0M1855.5 603.5H1861.0M1855.5 598.5H1858.0M1855.5 594.5H1861.0M1855.5 589.5H1858.0M53.5 880.5V891.5M77.5 880.5V891.5M102.5 880.5V891.5M126.5 880.5V891.5M151.5 880.5V891.5M176.5 880.5V891.5M200.5 880.5V891.5M224.5 880.5V891.5M249.5 880.5V891.5M273.5 880.5V891.5M298.5 880.5V891.5M322.5 880.5V891.5M347.5 880.5V891.5M372.5 880.5V891.5M391.5 880.5V891.5M416.5 880.5V891.5M440.5 880.5V891.5M465.5 880.5V891.5M489.5 880.5V891.5M513.5 880.5V891.5M538.5 880.5V891.5M563.5 880.5V891.5M587.5 880.5V891.5M612.5 880.5V891.5M636.5 880.5V891.5M661.5 880.5V891.5M685.5 880.5V891.5M710.5 880.5V891.5M734.5 880.5V891.5M758.5 880.5V891.5M783.5 880.5V891.5M808.5 880.5V891.5M832.5 880.5V891.5M842.5 880.5V891.5M857.5 880.5V891.5M881.5 880.5V891.5M906.5 880.5V891.5M931.5 880.5V891.5M955.5 880.5V891.5M980.5 880.5V891.5M1004.5 880.5V891.5M1028.5 880.5V891.5M1053.5 880.5V891.5M1077.5 880.5V891.5M1102.5 880.5V891.5M1127.5 880.5V891.5M1151.5 880.5V891.5M1176.5 880.5V891.5M1200.5 880.5V891.5M1220.5 880.5V891.5M1240.5 880.5V891.5M1259.5 880.5V891.5M1283.5 880.5V891.5M1308.5 880.5V891.5M1332.5 880.5V891.5M1357.5 880.5V891.5M1381.5 880.5V891.5M1406.5 880.5V891.5M1431.5 880.5V891.5M1455.5 880.5V891.5M1480.5 880.5V891.5M1504.5 880.5V891.5M1528.5 880.5V891.5M1553.5 880.5V891.5M1577.5 880.5V891.5M1602.5 880.5V891.5M1622.5 880.5V891.5M1646.5 880.5V891.5M1671.5 880.5V891.5M1695.5 880.5V891.5M1720.5 880.5V891.5M1745.5 880.5V891.5M1768.5 880.5V891.5M1793.5 880.5V891.5M1818.5 880.5V891.5M1842.5 880.5V891.5M126.5 880.5V902M224.5 880.5V902M337.5 880.5V902M440.5 880.5V902M543.5 880.5V902M656.5 880.5V902M758.5 880.5V902M847.5 880.5V902M955.5 880.5V902M1053.5 880.5V902M1156.5 880.5V902M1254.5 880.5V902M1357.5 880.5V902M1460.5 880.5V902M1572.5 880.5V902M1671.5 880.5V902M1778.5 880.5V902" stroke="#000" stroke-width="1" fill="none"/>
<path d="M1857.5 880.5V872.5H1876.5V880.5" stroke="#000" stroke-width="1" fill="#fff"/>
<g font-family="Liberation Sans, sans-serif" font-size="8.5" fill="#222" shape-rendering="auto"><text x="26.3" y="19.9" text-anchor="end">5.40</text><text x="1887.4" y="19.8" text-anchor="end">5.40</text><text x="26.3" y="40.9" text-anchor="end">5.35</text><text x="1887.4" y="40.8" text-anchor="end">5.35</text><text x="26.3" y="60.9" text-anchor="end">5.30</text><text x="1887.4" y="60.8" text-anchor="end">5.30</text><text x="26.3" y="80.9" text-anchor="end">5.25</text><text x="1887.4" y="80.8" text-anchor="end">5.25</text><text x="26.3" y="100.9" text-anchor="end">5.20</text><text x="1887.4" y="100.8" text-anchor="end">5.20</text><text x="26.3" y="121.9" text-anchor="end">5.15</text><text x="1887.4" y="121.8" text-anchor="end">5.15</text><text x="26.3" y="141.9" text-anchor="end">5.10</text><text x="1887.4" y="141.8" text-anchor="end">5.10</text><text x="26.3" y="161.9" text-anchor="end">5.05</text><text x="1887.4" y="161.8" text-anchor="end">5.05</text><text x="26.3" y="182.9" text-anchor="end">5.00</text><text x="1887.4" y="182.8" text-anchor="end">5.00</text><text x="26.3" y="202.9" text-anchor="end">4.95</text><text x="1887.4" y="202.8" text-anchor="end">4.95</text><text x="26.3" y="222.9" text-anchor="end">4.90</text><text x="1887.4" y="222.8" text-anchor="end">4.90</text><text x="26.3" y="242.9" text-anchor="end">4.85</text><text x="1887.4" y="242.8" text-anchor="end">4.85</text><text x="26.3" y="263.9" text-anchor="end">4.80</text><text x="1887.4" y="263.8" text-anchor="end">4.80</text><text x="26.3" y="283.9" text-anchor="end">4.75</text><text x="1887.4" y="283.8" text-anchor="end">4.75</text><text x="26.3" y="303.9" text-anchor="end">4.70</text><text x="1887.4" y="303.8" text-anchor="end">4.70</text><text x="26.3" y="324.9" text-anchor="end">4.65</text><text x="1887.4" y="324.8" text-anchor="end">4.65</text><text x="26.3" y="344.9" text-anchor="end">4.60</text><text x="1887.4" y="344.8" text-anchor="end">4.60</text><text x="26.3" y="364.9" text-anchor="end">4.55</text><text x="1887.4" y="364.8" text-anchor="end">4.55</text><text x="26.3" y="384.9" text-anchor="end">4.50</text><text x="1887.4" y="384.8" text-anchor="end">4.50</text><text x="26.3" y="405.9" text-anchor="end">4.45</text><text x="1887.4" y="405.8" text-anchor="end">4.45</text><text x="26.3" y="425.9" text-anchor="end">4.40</text><text x="1887.4" y="425.8" text-anchor="end">4.40</text><text x="26.3" y="445.9" text-anchor="end">4.35</text><text x="1887.4" y="445.8" text-anchor="end">4.35</text><text x="26.3" y="466.9" text-anchor="end">4.30</text><text x="1887.4" y="466.8" text-anchor="end">4.30</text><text x="26.3" y="486.9" text-anchor="end">4.25</text><text x="1887.4" y="486.8" text-anchor="end">4.25</text><text x="26.3" y="506.9" text-anchor="end">4.20</text><text x="1887.4" y="506.8" text-anchor="end">4.20</text><text x="26.3" y="526.9" text-anchor="end">4.15</text><text x="1887.4" y="526.8" text-anchor="end">4.15</text><text x="26.3" y="547.9" text-anchor="end">4.10</text><text x="1887.4" y="547.8" text-anchor="end">4.10</text><text x="26.3" y="567.9" text-anchor="end">4.05</text><text x="1887.4" y="567.8" text-anchor="end">4.05</text><text x="26.1" y="868.6" text-anchor="end">5</text><text x="26.1" y="853.7" text-anchor="end">10</text><text x="26.1" y="838.9" text-anchor="end">15</text><text x="26.1" y="824.1" text-anchor="end">20</text><text x="26.1" y="809.2" text-anchor="end">25</text><text x="26.1" y="794.4" text-anchor="end">30</text><text x="26.1" y="779.6" text-anchor="end">35</text><text x="26.1" y="764.8" text-anchor="end">40</text><text x="26.1" y="749.9" text-anchor="end">45</text><text x="26.1" y="735.1" text-anchor="end">50</text><text x="26.1" y="720.3" text-anchor="end">55</text><text x="26.1" y="705.4" text-anchor="end">60</text><text x="26.1" y="690.6" text-anchor="end">65</text><text x="26.1" y="675.8" text-anchor="end">70</text><text x="26.1" y="660.9" text-anchor="end">75</text><text x="26.1" y="646.1" text-anchor="end">80</text><text x="26.1" y="631.3" text-anchor="end">85</text><text x="26.1" y="616.5" text-anchor="end">90</text><text x="26.1" y="601.6" text-anchor="end">95</text><text x="1887.4" y="873.7" text-anchor="end" textLength="19.7" lengthAdjust="spacingAndGlyphs">1000</text><text x="1887.4" y="864.7" text-anchor="end" textLength="19.7" lengthAdjust="spacingAndGlyphs">2000</text><text x="1887.4" y="854.7" text-anchor="end" textLength="19.7" lengthAdjust="spacingAndGlyphs">3000</text><text x="1887.4" y="845.7" text-anchor="end" textLength="19.7" lengthAdjust="spacingAndGlyphs">4000</text><text x="1887.4" y="835.7" text-anchor="end" textLength="19.7" lengthAdjust="spacingAndGlyphs">5000</text><text x="1887.4" y="826.7" text-anchor="end" textLength="19.7" lengthAdjust="spacingAndGlyphs">6000</text><text x="1887.4" y="816.7" text-anchor="end" textLength="19.7" lengthAdjust="spacingAndGlyphs">7000</text><text x="1887.4" y="807.7" text-anchor="end" textLength="19.7" lengthAdjust="spacingAndGlyphs">8000</text><text x="1887.4" y="797.7" text-anchor="end" textLength="19.7" lengthAdjust="spacingAndGlyphs">9000</text><text x="1887.4" y="787.7" text-anchor="end" textLength="24.6" lengthAdjust="spacingAndGlyphs">10000</text><text x="1887.4" y="778.7" text-anchor="end" textLength="24.6" lengthAdjust="spacingAndGlyphs">11000</text><text x="1887.4" y="768.7" text-anchor="end" textLength="24.6" lengthAdjust="spacingAndGlyphs">12000</text><text x="1887.4" y="759.7" text-anchor="end" textLength="24.6" lengthAdjust="spacingAndGlyphs">13000</text><text x="1887.4" y="749.7" text-anchor="end" textLength="24.6" lengthAdjust="spacingAndGlyphs">14000</text><text x="1887.4" y="740.7" text-anchor="end" textLength="24.6" lengthAdjust="spacingAndGlyphs">15000</text><text x="1887.4" y="730.7" text-anchor="end" textLength="24.6" lengthAdjust="spacingAndGlyphs">16000</text><text x="1887.4" y="721.7" text-anchor="end" textLength="24.6" lengthAdjust="spacingAndGlyphs">17000</text><text x="1887.4" y="711.7" text-anchor="end" textLength="24.6" lengthAdjust="spacingAndGlyphs">18000</text><text x="1887.4" y="702.7" text-anchor="end" textLength="24.6" lengthAdjust="spacingAndGlyphs">19000</text><text x="1887.4" y="692.7" text-anchor="end" textLength="24.6" lengthAdjust="spacingAndGlyphs">20000</text><text x="1887.4" y="682.7" text-anchor="end" textLength="24.6" lengthAdjust="spacingAndGlyphs">21000</text><text x="1887.4" y="673.7" text-anchor="end" textLength="24.6" lengthAdjust="spacingAndGlyphs">22000</text><text x="1887.4" y="663.7" text-anchor="end" textLength="24.6" lengthAdjust="spacingAndGlyphs">23000</text><text x="1887.4" y="654.7" text-anchor="end" textLength="24.6" lengthAdjust="spacingAndGlyphs">24000</text><text x="1887.4" y="644.7" text-anchor="end" textLength="24.6" lengthAdjust="spacingAndGlyphs">25000</text><text x="1887.4" y="635.7" text-anchor="end" textLength="24.6" lengthAdjust="spacingAndGlyphs">26000</text><text x="1887.4" y="625.7" text-anchor="end" textLength="24.6" lengthAdjust="spacingAndGlyphs">27000</text><text x="1887.4" y="616.7" text-anchor="end" textLength="24.6" lengthAdjust="spacingAndGlyphs">28000</text><text x="1887.4" y="606.7" text-anchor="end" textLength="24.6" lengthAdjust="spacingAndGlyphs">29000</text><text x="1887.4" y="597.7" text-anchor="end" textLength="24.6" lengthAdjust="spacingAndGlyphs">30000</text><text x="54.8" y="888.8">13</text><text x="78.8" y="888.8">20</text><text x="103.8" y="888.8">27</text><text x="127.8" y="888.8">3</text><text x="152.8" y="888.8">10</text><text x="177.8" y="888.8">17</text><text x="201.8" y="888.8">24</text><text x="225.8" y="888.8">1</text><text x="250.8" y="888.8">8</text><text x="274.8" y="888.8">15</text><text x="299.8" y="888.8">22</text><text x="323.8" y="888.8">29</text><text x="348.8" y="888.8">5</text><text x="373.8" y="888.8">12</text><text x="392.8" y="888.8">19</text><text x="417.8" y="888.8">26</text><text x="441.8" y="888.8">2</text><text x="466.8" y="888.8">9</text><text x="490.8" y="888.8">16</text><text x="514.8" y="888.8">23</text><text x="539.8" y="888.8">30</text><text x="564.8" y="888.8">7</text><text x="588.8" y="888.8">14</text><text x="613.8" y="888.8">21</text><text x="637.8" y="888.8">28</text><text x="662.8" y="888.8">4</text><text x="686.8" y="888.8">11</text><text x="711.8" y="888.8">18</text><text x="735.8" y="888.8">25</text><text x="759.8" y="888.8">2</text><text x="784.8" y="888.8">9</text><text x="809.8" y="888.8">16</text><text x="833.8" y="888.8">23</text><text x="858.8" y="888.8">6</text><text x="882.8" y="888.8">13</text><text x="907.8" y="888.8">20</text><text x="932.8" y="888.8">27</text><text x="956.8" y="888.8">3</text><text x="981.8" y="888.8">10</text><text x="1005.8" y="888.8">17</text><text x="1029.8" y="888.8">24</text><text x="1054.8" y="888.8">3</text><text x="1078.8" y="888.8">10</text><text x="1103.8" y="888.8">17</text><text x="1128.8" y="888.8">24</text><text x="1152.8" y="888.8">31</text><text x="1177.8" y="888.8">7</text><text x="1201.8" y="888.8">14</text><text x="1221.8" y="888.8">22</text><text x="1241.8" y="888.8">28</text><text x="1260.8" y="888.8">5</text><text x="1284.8" y="888.8">12</text><text x="1309.8" y="888.8">19</text><text x="1333.8" y="888.8">26</text><text x="1358.8" y="888.8">2</text><text x="1382.8" y="888.8">9</text><text x="1407.8" y="888.8">16</text><text x="1432.8" y="888.8">23</text><text x="1456.8" y="888.8">30</text><text x="1481.8" y="888.8">7</text><text x="1505.8" y="888.8">14</text><text x="1529.8" y="888.8">21</text><text x="1554.8" y="888.8">28</text><text x="1578.8" y="888.8">4</text><text x="1603.8" y="888.8">11</text><text x="1623.8" y="888.8">18</text><text x="1647.8" y="888.8">25</text><text x="1672.8" y="888.8">1</text><text x="1696.8" y="888.8">8</text><text x="1721.8" y="888.8">15</text><text x="1746.8" y="888.8">22</text><text x="1769.8" y="888.8">29</text><text x="1794.8" y="888.8">6</text><text x="1819.8" y="888.8">13</text><text x="1843.8" y="888.8">20</text><text x="127.8" y="899.6">June</text><text x="225.8" y="899.6">July</text><text x="338.8" y="899.6">August</text><text x="441.8" y="899.6">September</text><text x="544.8" y="899.6">October</text><text x="657.8" y="899.6">November</text><text x="759.8" y="899.6">December</text><text x="848.8" y="899.6">2025</text><text x="956.8" y="899.6">February</text><text x="1054.8" y="899.6">March</text><text x="1157.8" y="899.6">April</text><text x="1255.8" y="899.6">May</text><text x="1358.8" y="899.6">June</text><text x="1461.8" y="899.6">July</text><text x="1573.8" y="899.6">August</text><text x="1672.8" y="899.6">September</text><text x="1779.8" y="899.6">October</text><text x="818" y="11" textLength="255" lengthAdjust="spacingAndGlyphs">SNAM RETE GAS (5.04000, 5.06800, 5.04000, 5.05600, +0.01000)</text></g>
<text x="1859" y="879" font-family="Liberation Sans, sans-serif" font-size="6" fill="#555" textLength="16" lengthAdjust="spacingAndGlyphs" shape-rendering="auto">x1000</text>
<rect x="399.5" y="75.5" width="337.5" height="47.5" fill="#f6fff6" stroke="#000" stroke-width="1"/>
<g font-family="Liberation Sans, sans-serif" font-size="13.5" font-weight="bold" fill="#000" shape-rendering="auto"><text x="402.4" y="88" textLength="322" lengthAdjust="spacing">Small white sui 5,056 per Snam che non si muove.</text><text x="402.4" y="104" textLength="332" lengthAdjust="spacing">Stop sotto i 5 intraday e proviamo a resistere in buy</text><text x="402" y="119.8" textLength="259.6" lengthAdjust="spacing">cercando la ripartenza in continuazione.</text></g>
<rect x="146.5" y="556.5" width="205.5" height="12" fill="#fff" stroke="#000" stroke-width="1"/>
<text x="148.8" y="565.7" font-family="Liberation Sans, sans-serif" font-size="9" font-weight="bold" fill="#000" stroke="#000" stroke-width="0.6" textLength="201.5" lengthAdjust="spacingAndGlyphs" shape-rendering="auto">COPYRIGHT<tspan font-weight="normal" stroke-width="0.15">@</tspan> LABORSADEIPICCOLI.COM</text></svg>
</body></html>
